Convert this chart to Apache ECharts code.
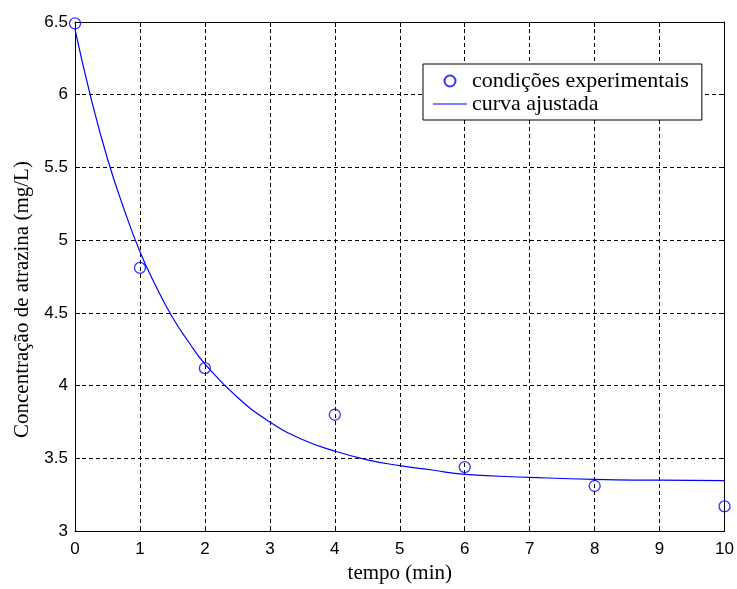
<!DOCTYPE html>
<html>
<head>
<meta charset="utf-8">
<script src="https://cdn.jsdelivr.net/npm/echarts@6/dist/echarts.min.js"></script>
<style>
  html, body { margin: 0; padding: 0; background: #fff; }
  #chart { width: 737px; height: 589px; }
</style>
</head>
<body>
<div id="chart"></div>
<script>
// pontos experimentais
var expTempo = [0, 1, 2, 4, 6, 8, 10];
var expConc = [6.49, 4.81, 4.12, 3.80, 3.44, 3.31, 3.17];

// curva ajustada
var curvaTempo = [0, 0.25, 0.5, 0.75, 1, 1.25, 1.5, 1.75, 2, 2.5, 3, 3.5, 4, 4.5, 5, 5.5, 6, 7, 8, 9, 10];
var curvaConc = [6.45, 5.97, 5.56, 5.22, 4.92, 4.68, 4.47, 4.30, 4.15, 3.92, 3.75, 3.63, 3.55, 3.49, 3.45, 3.42, 3.39, 3.37, 3.355, 3.35, 3.347];

var xTicks = [0, 10, 1];      // min, max, interval
var yTicks = [3, 6.5, 0.5];

var azul = '#0000ff';
var serif = '"Liberation Serif", "Times New Roman", serif';
var sans = '"Liberation Sans", Arial, sans-serif';

var myChart = echarts.init(document.getElementById('chart'));

var gridLine = { show: true, lineStyle: { color: '#000', type: [4, 3], width: 1 } };
var eixo = { show: true, onZero: false, lineStyle: { color: '#000', width: 1 } };
var tick = { show: true, inside: true, length: 5, lineStyle: { color: '#000' } };

var option = {
  backgroundColor: '#fff',
  animation: false,
  grid: { left: 75, right: 9, top: 22, bottom: 53 },
  legend: {
    orient: 'vertical',
    left: 423,
    top: 64,
    padding: [6, 13, 5, 10],
    itemGap: 1,
    itemWidth: 34,
    itemHeight: 11,
    backgroundColor: '#fff',
    borderColor: '#000',
    borderWidth: 1,
    borderRadius: 0,
    textStyle: { fontFamily: serif, fontSize: 22, color: '#000' },
    data: [
      { name: 'condições experimentais' },
      { name: 'curva ajustada', icon: 'path://M0,0L34,0L34,1.2L0,1.2Z' }
    ]
  },
  xAxis: [{
    type: 'value',
    min: xTicks[0], max: xTicks[1], interval: xTicks[2],
    name: 'tempo (min)',
    nameLocation: 'middle',
    nameGap: 30,
    nameTextStyle: { fontFamily: serif, fontSize: 21, color: '#000' },
    axisLine: eixo, axisTick: tick,
    axisLabel: { fontFamily: sans, fontSize: 17, color: '#000', margin: 10 },
    splitLine: gridLine
  }, {
    type: 'value', position: 'top',
    min: xTicks[0], max: xTicks[1], interval: xTicks[2],
    axisLine: eixo, axisTick: tick,
    axisLabel: { show: false }, splitLine: { show: false }
  }],
  yAxis: [{
    type: 'value',
    min: yTicks[0], max: yTicks[1], interval: yTicks[2],
    name: 'Concentração de atrazina (mg/L)',
    nameLocation: 'middle',
    nameGap: 42,
    nameTextStyle: { fontFamily: serif, fontSize: 21, color: '#000', padding: [0, 46, 0, 0] },
    axisLine: eixo, axisTick: tick,
    axisLabel: { fontFamily: sans, fontSize: 17, color: '#000', margin: 7 },
    splitLine: gridLine
  }, {
    type: 'value', position: 'right',
    min: yTicks[0], max: yTicks[1], interval: yTicks[2],
    axisLine: eixo, axisTick: tick,
    axisLabel: { show: false }, splitLine: { show: false }
  }],
  series: [
    {
      name: 'curva ajustada',
      type: 'line',
      xAxisIndex: 0, yAxisIndex: 0,
      symbol: 'none',
      smooth: true,
      lineStyle: { color: azul, width: 1.2 },
      itemStyle: { color: azul },
      data: curvaTempo.map(function (t, i) { return [t, curvaConc[i]]; }),
      z: 3
    },
    {
      name: 'condições experimentais',
      type: 'scatter',
      xAxisIndex: 0, yAxisIndex: 0,
      symbol: 'circle',
      symbolSize: 11,
      clip: false,
      itemStyle: { color: 'rgba(0,0,0,0)', borderColor: azul, borderWidth: 1.3 },
      data: expTempo.map(function (t, i) { return [t, expConc[i]]; }),
      z: 4
    }
  ]
};

myChart.setOption(option);
</script>
</body>
</html>
